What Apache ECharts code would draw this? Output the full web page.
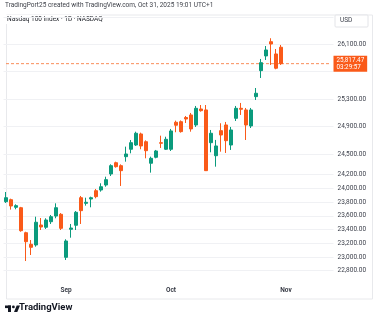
<!DOCTYPE html>
<html>
<head>
<meta charset="utf-8">
<script src="https://cdn.jsdelivr.net/npm/echarts@6/dist/echarts.min.js"></script>
<style>
  html, body { margin: 0; padding: 0; background: #ffffff; }
  #chart { width: 375px; height: 324px; }
</style>
</head>
<body>
<div id="chart"></div>
<script>
// Nasdaq 100 daily candles, Aug 14 – Oct 31 2025
const dates = [
  '2025-08-14','2025-08-15','2025-08-18','2025-08-19','2025-08-20','2025-08-21','2025-08-22',
  '2025-08-25','2025-08-26','2025-08-27','2025-08-28','2025-08-29',
  '2025-09-02','2025-09-03','2025-09-04','2025-09-05','2025-09-08','2025-09-09','2025-09-10',
  '2025-09-11','2025-09-12','2025-09-15','2025-09-16','2025-09-17','2025-09-18','2025-09-19',
  '2025-09-22','2025-09-23','2025-09-24','2025-09-25','2025-09-26','2025-09-29','2025-09-30',
  '2025-10-01','2025-10-02','2025-10-03','2025-10-06','2025-10-07','2025-10-08','2025-10-09',
  '2025-10-10','2025-10-13','2025-10-14','2025-10-15','2025-10-16','2025-10-17','2025-10-20',
  '2025-10-21','2025-10-22','2025-10-23','2025-10-24','2025-10-27','2025-10-28','2025-10-29',
  '2025-10-30','2025-10-31'
];
// empty sessions to the right of the last bar
const futureDates = [
  '2025-11-03','2025-11-04','2025-11-05','2025-11-06','2025-11-07',
  '2025-11-10','2025-11-11','2025-11-12','2025-11-13','2025-11-14'
];

const opens = [
  23806, 23835, 23724, 23718, 23354, 23185, 23175, 23466, 23433, 23514, 23597, 23622,
  22995, 23403, 23462, 23864, 23782, 23845, 23966, 23976, 24049, 24210, 24374, 24331,
  24462, 24570, 24632, 24793, 24680, 24366, 24453, 24666, 24570,
  24570, 24963, 24972, 25033, 25070, 24924, 25157, 25143, 24666, 24476, 24841, 24924,
  24632, 25021, 25167, 25143, 24910, 25337, 25716, 25930, 26138, 25959, 26057
];
const closes = [
  23864, 23743, 23748, 23383, 23223, 23141, 23506, 23437, 23539, 23587, 23718, 23418,
  23233, 23422, 23651, 23675, 23797, 23864, 23879, 24024, 24127, 24331, 24316, 24258,
  24501, 24666, 24803, 24618, 24549, 24438, 24545, 24657, 24715,
  24837, 24920, 24827, 25011, 24866, 25167, 25132, 24258, 24803, 24618, 24778, 24695,
  24851, 25167, 25153, 24924, 25143, 25386, 25832, 26017, 26104, 25751, 25817.47
];
const lows = [
  23787, 23690, 23695, 23368, 22941, 23029, 23150, 23393, 23408, 23481, 23564, 23393,
  22956, 23281, 23393, 23481, 23748, 23724, 23855, 23952, 24024, 24180, 24302, 24035,
  24389, 24511, 24618, 24570, 24438, 24229, 24438, 24589, 24560,
  24545, 24818, 24812, 24953, 24826, 24895, 25118, 24253, 24526, 24316, 24535, 24516,
  24560, 24982, 25070, 24705, 24880, 25288, 25609, 25871, 25799, 25736, 25799
];
const highs = [
  23947, 23850, 23768, 23730, 23368, 23247, 23587, 23568, 23564, 23612, 23782, 23640,
  23258, 23481, 23670, 23889, 23864, 23879, 23991, 24074, 24170, 24351, 24389, 24350,
  24608, 24705, 24826, 24812, 24700, 24462, 24560, 24768, 24753,
  24866, 24987, 24990, 25055, 25099, 25201, 25215, 25215, 24851, 24706, 24949, 24968,
  24895, 25201, 25245, 25172, 25172, 25463, 25886, 26075, 26188, 26031, 26090
];

const lastPrice = 25817.47;
const countdown = '03:29:57';

// price scale marks
const gridValues = [22800, 23000, 23200, 23400, 23600, 23800, 24000, 24200,
                    24500, 24900, 25300, 25700, 26100, 26500];
const labelValues = [22800, 23000, 23200, 23400, 23600, 23800, 24000, 24200,
                     24500, 24900, 25300, 26100];

const UP = '#0b9b7d';
const DOWN = '#fa5a19';
const PRICE_LINE = '#f98c58';
const FONT = 'Roboto, "Noto Sans", sans-serif';

const candles = dates.map((d, i) => [opens[i], closes[i], lows[i], highs[i]]);
const categories = dates.concat(futureDates);
const monthNames = ['Jan','Feb','Mar','Apr','May','Jun','Jul','Aug','Sep','Oct','Nov','Dec'];

function isMonthStart(idx) {
  if (idx === 0) return false;
  return categories[idx].slice(5, 7) !== categories[idx - 1].slice(5, 7);
}

const fmt = v => v.toLocaleString('en-US', { minimumFractionDigits: 2, maximumFractionDigits: 2 });

const chart = echarts.init(document.getElementById('chart'), null, { renderer: 'canvas' });

chart.setOption({
  backgroundColor: '#ffffff',
  animation: false,
  grid: { left: 3.5, right: 41.5, top: 13, bottom: 45 },
  xAxis: {
    type: 'category',
    data: categories,
    boundaryGap: true,
    axisLine: { show: false },
    axisTick: { show: false },
    splitLine: { show: false },
    axisLabel: {
      interval: (idx) => isMonthStart(idx),
      formatter: (val) => monthNames[parseInt(val.slice(5, 7), 10) - 1],
      margin: 8,
      fontSize: 6.5,
      fontWeight: 600,
      color: '#2a2e39',
      fontFamily: FONT
    }
  },
  yAxis: {
    type: 'value',
    position: 'right',
    min: 22679,
    max: 26556,
    axisLine: { show: false },
    axisTick: { show: false, customValues: gridValues },
    splitLine: { show: true, lineStyle: { color: '#f0f1f4', width: 1 } },
    axisLabel: {
      customValues: labelValues,
      formatter: fmt,
      margin: 4,
      fontSize: 6.5,
      color: '#3b3f4a',
      fontFamily: FONT
    }
  },
  series: [
    {
      // last-price guide line across the whole pane
      type: 'line',
      data: categories.map(() => lastPrice),
      showSymbol: false,
      silent: true,
      z: 1,
      itemStyle: { color: PRICE_LINE },
      lineStyle: { color: PRICE_LINE, type: [3, 2], width: 1 }
    },
    {
      type: 'candlestick',
      data: candles,
      barWidth: 3,
      z: 3,
      itemStyle: {
        color: UP,
        color0: DOWN,
        borderColor: UP,
        borderColor0: DOWN,
        borderWidth: 1
      },
      markLine: {
        silent: true,
        symbol: ['none', 'none'],
        data: [{
          yAxis: lastPrice,
          lineStyle: { color: PRICE_LINE, width: 0, opacity: 0 },
          label: {
            show: true,
            position: 'end',
            distance: 0,
            opacity: 1,
            formatter: () => fmt(lastPrice) + '\n' + countdown,
            backgroundColor: DOWN,
            color: '#ffffff',
            fontSize: 6.3,
            lineHeight: 7,
            padding: [1, 3, 1, 3],
            fontFamily: FONT,
            align: 'left'
          }
        }]
      }
    }
  ],
  graphic: [
    {
      type: 'text', left: 5, top: 2,
      style: { text: 'TradingPort25 created with TradingView.com, Oct 31, 2025 19:01 UTC+1',
               fontSize: 6.5, fill: '#3c3f47', fontFamily: FONT }
    },
    {
      type: 'rect', left: 4, top: 12.5, silent: true,
      shape: { width: 366, height: 284 },
      style: { fill: 'none', stroke: '#e8e9ec', lineWidth: 1 }
    },
    {
      type: 'rect', left: 5, top: 15, silent: true,
      shape: { width: 96, height: 9 },
      style: { fill: '#ffffff' }
    },
    {
      type: 'text', left: 7, top: 16,
      style: { text: 'Nasdaq 100 Index · 1D · NASDAQ', fontSize: 6.5, fill: '#1c1f26', fontFamily: FONT }
    },
    {
      type: 'rect', left: 334.5, top: 14.5, silent: true,
      shape: { width: 33, height: 12, r: 1 },
      style: { fill: '#ffffff', stroke: '#e3e4e8', lineWidth: 1 }
    },
    {
      type: 'text', left: 340, top: 17,
      style: { text: 'USD', fontSize: 6.5, fill: '#3b3f4a', fontFamily: FONT }
    },
    // TradingView mark
    {
      type: 'group', left: 5, top: 305.5,
      children: [
        { type: 'rect', shape: { x: 0, y: 0, width: 6, height: 2.6 }, style: { fill: '#131722' } },
        { type: 'rect', shape: { x: 3, y: 0, width: 3, height: 6.5 }, style: { fill: '#131722' } },
        { type: 'circle', shape: { cx: 8.4, cy: 1.4, r: 1.4 }, style: { fill: '#131722' } },
        { type: 'polygon', shape: { points: [[9, 6.5], [11.7, 0], [15, 0], [12.3, 6.5]] }, style: { fill: '#131722' } }
      ]
    },
    {
      type: 'text', left: 19, top: 303,
      style: { text: 'TradingView', fontSize: 9.5, fontWeight: 'bold', fill: '#131722', fontFamily: FONT }
    }
  ]
});
</script>
</body>
</html>
